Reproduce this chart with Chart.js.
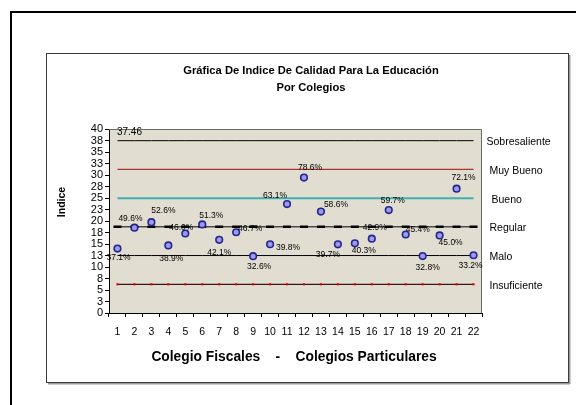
<!DOCTYPE html>
<html><head><meta charset="utf-8">
<script src="https://cdn.jsdelivr.net/npm/chart.js@4"></script>
<style>html,body{margin:0;padding:0;background:#fff}#wrap{width:576px;height:405px;position:relative}</style>
</head><body><div id="wrap"><canvas id="c" width="576" height="405"></canvas></div>
<script>
// ---- data ----
const categories = ['1','2','3','4','5','6','7','8','9','10','11','12','13','14','15','16','17','18','19','20','21','22'];
const indiceValues = [14.0,18.55,19.75,14.7,17.28,19.25,15.9,17.55,12.35,14.95,23.68,29.45,22.05,14.93,15.15,16.15,22.38,17.06,12.38,16.87,27.03,12.55];
const percentLabels = ['37.1%','49.6%','52.6%','38.9%','46.0%','51.3%','42.1%','46.7%','32.6%','39.8%','63.1%','78.6%','58.6%','39.7%','40.3%','42.9%','59.7%','45.4%','32.8%','45.0%','72.1%','33.2%'];
const levelNames = ['Sobresaliente','Muy Bueno','Bueno','Regular','Malo','Insuficiente'];
const levelValues = [37.46,31.22,24.97,18.73,12.49,6.24];
const topLabel = '37.46';
const titleLines = ['Gráfica De Indice De Calidad Para La Educación','Por Colegios'];
const yTitle = 'Indice';
const xTitle = 'Colegio Fiscales    -    Colegios Particulares';

// ---- layout / style (kept apart from data) ----
const labelOffsets = [[1,9],[-4,-9],[12,-11],[3,13],[-4,-6],[9,-9],[0,13],[14,-4],[6,10],[18,3],[-12,-8],[6,-10],[15,-7],[-10,10],[9,7],[3,-11],[4,-9],[12,-5],[5,12],[11,7],[7,-11],[-3,10]];
const levelStyles = [
  {color:'#000000', width:1},
  {color:'#a8382f', width:1.4},
  {color:'#3fb0b0', width:2},
  {color:'#000000', width:1, pointStyle:'line', pointRadius:4, pointBorderWidth:2.5, pointColor:'#000'},
  {color:'#000000', width:1},
  {color:'#3a1515', width:1.2, pointStyle:'rect', pointRadius:1.5, pointBorderWidth:0, pointColor:'#e00000'}
];
const levelLabelX = [486.5, 489.5, 491.5, 489.5, 489.5, 489.5];
const FONT = '"Liberation Sans", Arial, sans-serif';

const levelDatasets = levelValues.map((v, k) => {
  const s = levelStyles[k];
  return {
    label: levelNames[k],
    data: categories.map(() => v),
    borderColor: s.color,
    borderWidth: s.width,
    pointRadius: s.pointRadius || 0,
    pointStyle: s.pointStyle || 'circle',
    pointBorderWidth: s.pointBorderWidth || 0,
    pointBorderColor: s.pointColor || s.color,
    pointBackgroundColor: s.pointColor || s.color,
    fill: false,
    tension: 0,
    order: 2
  };
});

const pointDataset = {
  label: 'Indice',
  data: indiceValues,
  showLine: false,
  pointRadius: 3.3,
  pointBorderWidth: 1.6,
  pointBorderColor: '#262688',
  pointBackgroundColor: '#9a9af5',
  order: 0
};

const decor = {
  id: 'decor',
  beforeDraw(chart) {
    const ctx = chart.ctx, a = chart.chartArea;
    ctx.save();
    ctx.fillStyle = '#fff';
    ctx.fillRect(0, 0, chart.width, chart.height);
    ctx.fillStyle = '#000';
    ctx.fillRect(10, 11, chart.width - 10, 2);
    ctx.fillRect(10, 11, 2, chart.height - 11);
    ctx.fillStyle = '#9a9a9a';
    ctx.fillRect(48, 383, 522, 1.5);
    ctx.fillRect(569, 55, 1.5, 329);
    ctx.strokeStyle = '#3c3c3c';
    ctx.lineWidth = 1;
    ctx.strokeRect(46.5, 53.5, 522, 329);
    ctx.fillStyle = '#e2ddd1';
    ctx.fillRect(a.left, a.top, a.right - a.left, a.bottom - a.top);
    ctx.restore();
  },
  afterDatasetsDraw(chart) {
    const ctx = chart.ctx, a = chart.chartArea;
    ctx.save();
    ctx.strokeStyle = '#6a6a6a';
    ctx.lineWidth = 1;
    ctx.beginPath();
    ctx.moveTo(a.left, a.top + 0.5); ctx.lineTo(a.right - 0.5, a.top + 0.5); ctx.lineTo(a.right - 0.5, a.bottom);
    ctx.stroke();
    // percent labels
    const meta = chart.getDatasetMeta(chart.data.datasets.length - 1);
    ctx.fillStyle = '#000';
    ctx.textAlign = 'center';
    ctx.textBaseline = 'middle';
    ctx.font = '8.5px ' + FONT;
    meta.data.forEach((p, i) => {
      ctx.fillText(percentLabels[i], p.x + labelOffsets[i][0], p.y + labelOffsets[i][1]);
    });
    // top label on first level line
    const m0 = chart.getDatasetMeta(0).data[0];
    ctx.font = '10px ' + FONT;
    ctx.fillText(topLabel, m0.x + 12, m0.y - 8.5);
    ctx.restore();
  },
  afterDraw(chart) {
    const ctx = chart.ctx, y = chart.scales.y;
    ctx.save();
    ctx.fillStyle = '#000';
    ctx.textBaseline = 'middle';
    // titles
    ctx.textAlign = 'center';
    ctx.font = 'bold 11.2px ' + FONT;
    ctx.fillText(titleLines[0], 311, 70.5);
    ctx.fillText(titleLines[1], 311, 88);
    // x title
    ctx.font = 'bold 13.8px ' + FONT;
    ctx.fillText(xTitle, 294, 357);
    // y title
    ctx.save();
    ctx.translate(62, 202);
    ctx.rotate(-Math.PI / 2);
    ctx.font = 'bold 10.5px ' + FONT;
    ctx.fillText(yTitle, 0, 0);
    ctx.restore();
    // level names at right
    ctx.textAlign = 'left';
    ctx.font = '10.5px ' + FONT;
    levelNames.forEach((n, k) => {
      ctx.fillText(n, levelLabelX[k], y.getPixelForValue(levelValues[k]) + 1.5);
    });
    ctx.restore();
  }
};

new Chart(document.getElementById('c'), {
  type: 'line',
  data: { labels: categories, datasets: [...levelDatasets, pointDataset] },
  options: {
    responsive: false,
    animation: false,
    devicePixelRatio: 1,
    layout: { padding: { left: 0, right: 94, top: 129, bottom: 0 } },
    plugins: { legend: { display: false }, tooltip: { enabled: false }, title: { display: false } },
    scales: {
      x: {
        type: 'category',
        offset: true,
        grid: { drawOnChartArea: false, drawTicks: true, tickLength: 4, color: '#000', offset: true },
        border: { display: true, color: '#000', width: 1 },
        ticks: { color: '#000', font: { family: FONT, size: 10.5 }, padding: 9, maxRotation: 0, autoSkip: false },
        afterFit(s) { s.height = 92; }
      },
      y: {
        min: 0, max: 40,
        grid: { drawOnChartArea: false, drawTicks: true, tickLength: 4, color: '#000' },
        border: { display: true, color: '#000', width: 1 },
        ticks: { stepSize: 2.5, autoSkip: false, color: '#000', font: { family: FONT, size: 11 }, padding: 2,
                 callback: v => String(Math.round(v)) },
        afterFit(s) { s.width = 109; }
      }
    }
  },
  plugins: [decor]
});
</script>
</body></html>
